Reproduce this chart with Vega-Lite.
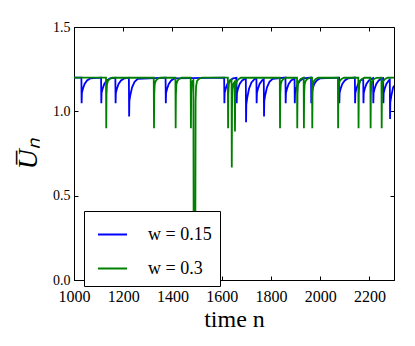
{
  "$schema": "https://vega.github.io/schema/vega-lite/v6.json",
  "width": 320,
  "height": 253,
  "autosize": "none",
  "padding": {"left": 74, "top": 27, "right": 21, "bottom": 66},
  "background": "white",
  "config": {
    "view": {"stroke": "black", "strokeWidth": 1},
    "font": "Liberation Serif",
    "axis": {
      "grid": false,
      "domainColor": "black",
      "tickColor": "black",
      "labelColor": "black",
      "titleColor": "black",
      "labelFont": "Liberation Serif",
      "titleFont": "Liberation Serif",
      "labelFontSize": 16,
      "titleFontWeight": "normal",
      "tickSize": -4,
      "labelPadding": 8,
      "labelFlush": false,
      "labelOverlap": false
    },
    "legend": {
      "labelFont": "Liberation Serif",
      "labelFontSize": 18,
      "labelColor": "black"
    }
  },
  "data": {
    "values": [
      {"w": "w = 0.15", "n": 1000, "U": 1.2},
      {"w": "w = 0.15", "n": 1030, "U": 1.2},
      {"w": "w = 0.15", "n": 1031, "U": 1.048},
      {"w": "w = 0.15", "n": 1032, "U": 1.109},
      {"w": "w = 0.15", "n": 1036, "U": 1.132},
      {"w": "w = 0.15", "n": 1043, "U": 1.162},
      {"w": "w = 0.15", "n": 1053, "U": 1.183},
      {"w": "w = 0.15", "n": 1066, "U": 1.195},
      {"w": "w = 0.15", "n": 1110, "U": 1.2},
      {"w": "w = 0.15", "n": 1111, "U": 1.048},
      {"w": "w = 0.15", "n": 1112, "U": 1.109},
      {"w": "w = 0.15", "n": 1116, "U": 1.132},
      {"w": "w = 0.15", "n": 1123, "U": 1.162},
      {"w": "w = 0.15", "n": 1133, "U": 1.183},
      {"w": "w = 0.15", "n": 1146, "U": 1.195},
      {"w": "w = 0.15", "n": 1168, "U": 1.199},
      {"w": "w = 0.15", "n": 1169, "U": 1.048},
      {"w": "w = 0.15", "n": 1170, "U": 1.109},
      {"w": "w = 0.15", "n": 1174, "U": 1.132},
      {"w": "w = 0.15", "n": 1181, "U": 1.162},
      {"w": "w = 0.15", "n": 1191, "U": 1.183},
      {"w": "w = 0.15", "n": 1204, "U": 1.195},
      {"w": "w = 0.15", "n": 1223, "U": 1.199},
      {"w": "w = 0.15", "n": 1224, "U": 0.97},
      {"w": "w = 0.15", "n": 1225, "U": 1.062},
      {"w": "w = 0.15", "n": 1229, "U": 1.097},
      {"w": "w = 0.15", "n": 1236, "U": 1.142},
      {"w": "w = 0.15", "n": 1246, "U": 1.175},
      {"w": "w = 0.15", "n": 1259, "U": 1.193},
      {"w": "w = 0.15", "n": 1372, "U": 1.2},
      {"w": "w = 0.15", "n": 1373, "U": 1.048},
      {"w": "w = 0.15", "n": 1374, "U": 1.109},
      {"w": "w = 0.15", "n": 1378, "U": 1.132},
      {"w": "w = 0.15", "n": 1385, "U": 1.162},
      {"w": "w = 0.15", "n": 1395, "U": 1.183},
      {"w": "w = 0.15", "n": 1408, "U": 1.195},
      {"w": "w = 0.15", "n": 1610, "U": 1.2},
      {"w": "w = 0.15", "n": 1611, "U": 1.048},
      {"w": "w = 0.15", "n": 1612, "U": 1.109},
      {"w": "w = 0.15", "n": 1616, "U": 1.132},
      {"w": "w = 0.15", "n": 1623, "U": 1.162},
      {"w": "w = 0.15", "n": 1633, "U": 1.183},
      {"w": "w = 0.15", "n": 1646, "U": 1.195},
      {"w": "w = 0.15", "n": 1660, "U": 1.199},
      {"w": "w = 0.15", "n": 1661, "U": 1.048},
      {"w": "w = 0.15", "n": 1662, "U": 1.109},
      {"w": "w = 0.15", "n": 1666, "U": 1.132},
      {"w": "w = 0.15", "n": 1673, "U": 1.162},
      {"w": "w = 0.15", "n": 1683, "U": 1.183},
      {"w": "w = 0.15", "n": 1698, "U": 1.195},
      {"w": "w = 0.15", "n": 1699, "U": 0.935},
      {"w": "w = 0.15", "n": 1700, "U": 1.041},
      {"w": "w = 0.15", "n": 1704, "U": 1.081},
      {"w": "w = 0.15", "n": 1711, "U": 1.134},
      {"w": "w = 0.15", "n": 1721, "U": 1.171},
      {"w": "w = 0.15", "n": 1734, "U": 1.192},
      {"w": "w = 0.15", "n": 1741, "U": 1.196},
      {"w": "w = 0.15", "n": 1742, "U": 1.048},
      {"w": "w = 0.15", "n": 1743, "U": 1.109},
      {"w": "w = 0.15", "n": 1747, "U": 1.132},
      {"w": "w = 0.15", "n": 1754, "U": 1.162},
      {"w": "w = 0.15", "n": 1764, "U": 1.183},
      {"w": "w = 0.15", "n": 1771, "U": 1.19},
      {"w": "w = 0.15", "n": 1772, "U": 0.97},
      {"w": "w = 0.15", "n": 1773, "U": 1.062},
      {"w": "w = 0.15", "n": 1777, "U": 1.097},
      {"w": "w = 0.15", "n": 1784, "U": 1.142},
      {"w": "w = 0.15", "n": 1794, "U": 1.175},
      {"w": "w = 0.15", "n": 1807, "U": 1.193},
      {"w": "w = 0.15", "n": 1859, "U": 1.2},
      {"w": "w = 0.15", "n": 1860, "U": 1.048},
      {"w": "w = 0.15", "n": 1861, "U": 1.109},
      {"w": "w = 0.15", "n": 1865, "U": 1.132},
      {"w": "w = 0.15", "n": 1872, "U": 1.162},
      {"w": "w = 0.15", "n": 1882, "U": 1.183},
      {"w": "w = 0.15", "n": 1896, "U": 1.195},
      {"w": "w = 0.15", "n": 1897, "U": 1.048},
      {"w": "w = 0.15", "n": 1898, "U": 1.109},
      {"w": "w = 0.15", "n": 1902, "U": 1.132},
      {"w": "w = 0.15", "n": 1909, "U": 1.162},
      {"w": "w = 0.15", "n": 1919, "U": 1.183},
      {"w": "w = 0.15", "n": 1932, "U": 1.195},
      {"w": "w = 0.15", "n": 1963, "U": 1.2},
      {"w": "w = 0.15", "n": 1964, "U": 1.048},
      {"w": "w = 0.15", "n": 1965, "U": 1.109},
      {"w": "w = 0.15", "n": 1969, "U": 1.132},
      {"w": "w = 0.15", "n": 1976, "U": 1.162},
      {"w": "w = 0.15", "n": 1986, "U": 1.183},
      {"w": "w = 0.15", "n": 1999, "U": 1.195},
      {"w": "w = 0.15", "n": 2077, "U": 1.2},
      {"w": "w = 0.15", "n": 2078, "U": 1.048},
      {"w": "w = 0.15", "n": 2079, "U": 1.109},
      {"w": "w = 0.15", "n": 2083, "U": 1.132},
      {"w": "w = 0.15", "n": 2090, "U": 1.162},
      {"w": "w = 0.15", "n": 2100, "U": 1.183},
      {"w": "w = 0.15", "n": 2113, "U": 1.195},
      {"w": "w = 0.15", "n": 2141, "U": 1.2},
      {"w": "w = 0.15", "n": 2142, "U": 1.048},
      {"w": "w = 0.15", "n": 2143, "U": 1.109},
      {"w": "w = 0.15", "n": 2147, "U": 1.132},
      {"w": "w = 0.15", "n": 2154, "U": 1.162},
      {"w": "w = 0.15", "n": 2164, "U": 1.183},
      {"w": "w = 0.15", "n": 2175, "U": 1.193},
      {"w": "w = 0.15", "n": 2176, "U": 1.048},
      {"w": "w = 0.15", "n": 2177, "U": 1.109},
      {"w": "w = 0.15", "n": 2181, "U": 1.132},
      {"w": "w = 0.15", "n": 2188, "U": 1.162},
      {"w": "w = 0.15", "n": 2198, "U": 1.183},
      {"w": "w = 0.15", "n": 2211, "U": 1.195},
      {"w": "w = 0.15", "n": 2215, "U": 1.197},
      {"w": "w = 0.15", "n": 2216, "U": 1.048},
      {"w": "w = 0.15", "n": 2217, "U": 1.109},
      {"w": "w = 0.15", "n": 2221, "U": 1.132},
      {"w": "w = 0.15", "n": 2228, "U": 1.162},
      {"w": "w = 0.15", "n": 2238, "U": 1.183},
      {"w": "w = 0.15", "n": 2251, "U": 1.195},
      {"w": "w = 0.15", "n": 2256, "U": 1.197},
      {"w": "w = 0.15", "n": 2257, "U": 1.048},
      {"w": "w = 0.15", "n": 2258, "U": 1.109},
      {"w": "w = 0.15", "n": 2262, "U": 1.132},
      {"w": "w = 0.15", "n": 2269, "U": 1.162},
      {"w": "w = 0.15", "n": 2279, "U": 1.183},
      {"w": "w = 0.15", "n": 2283, "U": 1.188},
      {"w": "w = 0.15", "n": 2284, "U": 0.955},
      {"w": "w = 0.15", "n": 2285, "U": 1.053},
      {"w": "w = 0.15", "n": 2289, "U": 1.09},
      {"w": "w = 0.15", "n": 2296, "U": 1.139},
      {"w": "w = 0.15", "n": 2300, "U": 1.152},
      {"w": "w = 0.3", "n": 1000, "U": 1.2},
      {"w": "w = 0.3", "n": 1130, "U": 1.2},
      {"w": "w = 0.3", "n": 1131, "U": 0.9},
      {"w": "w = 0.3", "n": 1132, "U": 1.1},
      {"w": "w = 0.3", "n": 1134, "U": 1.161},
      {"w": "w = 0.3", "n": 1138, "U": 1.18},
      {"w": "w = 0.3", "n": 1145, "U": 1.192},
      {"w": "w = 0.3", "n": 1155, "U": 1.199},
      {"w": "w = 0.3", "n": 1324, "U": 1.2},
      {"w": "w = 0.3", "n": 1325, "U": 0.9},
      {"w": "w = 0.3", "n": 1326, "U": 1.1},
      {"w": "w = 0.3", "n": 1328, "U": 1.161},
      {"w": "w = 0.3", "n": 1332, "U": 1.18},
      {"w": "w = 0.3", "n": 1339, "U": 1.192},
      {"w": "w = 0.3", "n": 1349, "U": 1.199},
      {"w": "w = 0.3", "n": 1412, "U": 1.2},
      {"w": "w = 0.3", "n": 1413, "U": 0.9},
      {"w": "w = 0.3", "n": 1414, "U": 1.1},
      {"w": "w = 0.3", "n": 1416, "U": 1.161},
      {"w": "w = 0.3", "n": 1420, "U": 1.18},
      {"w": "w = 0.3", "n": 1427, "U": 1.192},
      {"w": "w = 0.3", "n": 1437, "U": 1.199},
      {"w": "w = 0.3", "n": 1474, "U": 1.2},
      {"w": "w = 0.3", "n": 1475, "U": 0.9},
      {"w": "w = 0.3", "n": 1476, "U": 1.1},
      {"w": "w = 0.3", "n": 1478, "U": 1.161},
      {"w": "w = 0.3", "n": 1482, "U": 1.18},
      {"w": "w = 0.3", "n": 1485, "U": 1.185},
      {"w": "w = 0.3", "n": 1486, "U": 0.3},
      {"w": "w = 0.3", "n": 1493, "U": 0.32},
      {"w": "w = 0.3", "n": 1494, "U": 1.06},
      {"w": "w = 0.3", "n": 1496, "U": 1.15},
      {"w": "w = 0.3", "n": 1500, "U": 1.18},
      {"w": "w = 0.3", "n": 1508, "U": 1.193},
      {"w": "w = 0.3", "n": 1520, "U": 1.2},
      {"w": "w = 0.3", "n": 1625, "U": 1.2},
      {"w": "w = 0.3", "n": 1626, "U": 0.9},
      {"w": "w = 0.3", "n": 1627, "U": 1.1},
      {"w": "w = 0.3", "n": 1629, "U": 1.161},
      {"w": "w = 0.3", "n": 1633, "U": 1.18},
      {"w": "w = 0.3", "n": 1640, "U": 1.188},
      {"w": "w = 0.3", "n": 1641, "U": 0.667},
      {"w": "w = 0.3", "n": 1642, "U": 1.024},
      {"w": "w = 0.3", "n": 1644, "U": 1.131},
      {"w": "w = 0.3", "n": 1648, "U": 1.164},
      {"w": "w = 0.3", "n": 1653, "U": 1.175},
      {"w": "w = 0.3", "n": 1654, "U": 0.88},
      {"w": "w = 0.3", "n": 1655, "U": 1.094},
      {"w": "w = 0.3", "n": 1657, "U": 1.158},
      {"w": "w = 0.3", "n": 1661, "U": 1.179},
      {"w": "w = 0.3", "n": 1668, "U": 1.191},
      {"w": "w = 0.3", "n": 1678, "U": 1.199},
      {"w": "w = 0.3", "n": 1836, "U": 1.2},
      {"w": "w = 0.3", "n": 1837, "U": 0.9},
      {"w": "w = 0.3", "n": 1838, "U": 1.1},
      {"w": "w = 0.3", "n": 1840, "U": 1.161},
      {"w": "w = 0.3", "n": 1844, "U": 1.18},
      {"w": "w = 0.3", "n": 1851, "U": 1.192},
      {"w": "w = 0.3", "n": 1861, "U": 1.199},
      {"w": "w = 0.3", "n": 1906, "U": 1.2},
      {"w": "w = 0.3", "n": 1907, "U": 0.9},
      {"w": "w = 0.3", "n": 1908, "U": 1.1},
      {"w": "w = 0.3", "n": 1910, "U": 1.161},
      {"w": "w = 0.3", "n": 1914, "U": 1.18},
      {"w": "w = 0.3", "n": 1921, "U": 1.192},
      {"w": "w = 0.3", "n": 1931, "U": 1.199},
      {"w": "w = 0.3", "n": 1933, "U": 1.2},
      {"w": "w = 0.3", "n": 1934, "U": 0.9},
      {"w": "w = 0.3", "n": 1935, "U": 1.1},
      {"w": "w = 0.3", "n": 1937, "U": 1.161},
      {"w": "w = 0.3", "n": 1941, "U": 1.18},
      {"w": "w = 0.3", "n": 1948, "U": 1.192},
      {"w": "w = 0.3", "n": 1958, "U": 1.199},
      {"w": "w = 0.3", "n": 1967, "U": 1.2},
      {"w": "w = 0.3", "n": 1968, "U": 0.9},
      {"w": "w = 0.3", "n": 1969, "U": 1.1},
      {"w": "w = 0.3", "n": 1971, "U": 1.161},
      {"w": "w = 0.3", "n": 1975, "U": 1.18},
      {"w": "w = 0.3", "n": 1982, "U": 1.192},
      {"w": "w = 0.3", "n": 1992, "U": 1.199},
      {"w": "w = 0.3", "n": 2072, "U": 1.2},
      {"w": "w = 0.3", "n": 2073, "U": 0.9},
      {"w": "w = 0.3", "n": 2074, "U": 1.1},
      {"w": "w = 0.3", "n": 2076, "U": 1.161},
      {"w": "w = 0.3", "n": 2080, "U": 1.18},
      {"w": "w = 0.3", "n": 2087, "U": 1.192},
      {"w": "w = 0.3", "n": 2097, "U": 1.199},
      {"w": "w = 0.3", "n": 2155, "U": 1.2},
      {"w": "w = 0.3", "n": 2156, "U": 0.9},
      {"w": "w = 0.3", "n": 2157, "U": 1.1},
      {"w": "w = 0.3", "n": 2159, "U": 1.161},
      {"w": "w = 0.3", "n": 2163, "U": 1.18},
      {"w": "w = 0.3", "n": 2170, "U": 1.192},
      {"w": "w = 0.3", "n": 2180, "U": 1.199},
      {"w": "w = 0.3", "n": 2204, "U": 1.2},
      {"w": "w = 0.3", "n": 2205, "U": 0.9},
      {"w": "w = 0.3", "n": 2206, "U": 1.1},
      {"w": "w = 0.3", "n": 2208, "U": 1.161},
      {"w": "w = 0.3", "n": 2212, "U": 1.18},
      {"w": "w = 0.3", "n": 2219, "U": 1.192},
      {"w": "w = 0.3", "n": 2229, "U": 1.199},
      {"w": "w = 0.3", "n": 2249, "U": 1.2},
      {"w": "w = 0.3", "n": 2250, "U": 0.9},
      {"w": "w = 0.3", "n": 2251, "U": 1.1},
      {"w": "w = 0.3", "n": 2253, "U": 1.161},
      {"w": "w = 0.3", "n": 2257, "U": 1.18},
      {"w": "w = 0.3", "n": 2264, "U": 1.192},
      {"w": "w = 0.3", "n": 2274, "U": 1.199},
      {"w": "w = 0.3", "n": 2300, "U": 1.2}
    ]
  },
  "layer": [
    {
      "transform": [{"filter": "datum.w == 'w = 0.15'"}],
      "mark": {"type": "line", "strokeWidth": 1.8, "clip": true},
      "encoding": {
        "x": {
          "field": "n", "type": "quantitative",
          "scale": {"domain": [1000, 2300], "nice": false, "zero": false},
          "axis": {"orient": "bottom", "values": [1000, 1200, 1400, 1600, 1800, 2000, 2200], "format": "d", "title": "time n", "titleFontSize": 24, "titlePadding": 3, "labelPadding": 12}
        },
        "y": {
          "field": "U", "type": "quantitative",
          "scale": {"domain": [0, 1.5], "nice": false, "zero": false},
          "axis": {"orient": "left", "values": [0, 0.5, 1, 1.5], "format": ".1f", "labelFontSize": 14, "title": "U̅ₙ", "titleFontSize": 28, "titleFontStyle": "italic", "titlePadding": 10}
        },
        "color": {
          "field": "w", "type": "nominal",
          "scale": {"domain": ["w = 0.15", "w = 0.3"], "range": ["#0000ff", "#008000"]},
          "legend": {"title": null, "orient": "none", "legendX": 10, "legendY": 184, "fillColor": "white", "strokeColor": "black", "padding": 8, "symbolType": "stroke", "symbolSize": 841, "symbolStrokeWidth": 2, "symbolOffset": 5, "labelOffset": 20, "rowPadding": 9}
        }
      }
    },
    {
      "transform": [{"filter": "datum.w == 'w = 0.3'"}],
      "mark": {"type": "line", "strokeWidth": 1.8, "clip": true},
      "encoding": {
        "x": {"field": "n", "type": "quantitative", "axis": null},
        "y": {"field": "U", "type": "quantitative", "axis": null},
        "color": {
          "field": "w", "type": "nominal",
          "legend": {"title": null, "orient": "none", "legendX": 10, "legendY": 184, "fillColor": "white", "strokeColor": "black", "padding": 8, "symbolType": "stroke", "symbolSize": 841, "symbolStrokeWidth": 2, "symbolOffset": 5, "labelOffset": 20, "rowPadding": 9}
        }
      }
    },
    {
      "transform": [{"filter": "datum.n == 1000"}],
      "mark": {"type": "point", "opacity": 0},
      "encoding": {
        "x": {"field": "n", "type": "quantitative", "axis": {"orient": "top", "values": [1000, 1200, 1400, 1600, 1800, 2000, 2200], "labels": false, "title": null, "domain": false}},
        "y": {"field": "U", "type": "quantitative", "axis": {"orient": "right", "values": [0, 0.5, 1, 1.5], "labels": false, "title": null, "domain": false}}
      }
    }
  ],
  "resolve": {"axis": {"x": "independent", "y": "independent"}}
}
